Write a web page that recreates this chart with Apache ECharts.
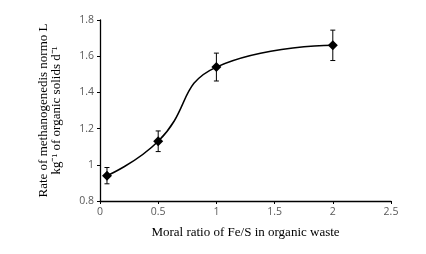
<!DOCTYPE html>
<html><head><meta charset="utf-8">
<script src="https://cdn.jsdelivr.net/npm/echarts@6/dist/echarts.min.js"></script>
<style>html,body{margin:0;padding:0;background:#fff}#c{width:426px;height:254px}</style>
</head><body><div id="c"></div>
<script>
const xValues = [0.06, 0.5, 1, 2];
const yValues = [0.94, 1.13, 1.54, 1.66];
const errValues = [0.045, 0.057, 0.077, 0.084];
const xTicks = [0, 0.5, 1, 1.5, 2, 2.5];
const yTicks = [0.8, 1, 1.2, 1.4, 1.6, 1.8];

const chart = echarts.init(document.getElementById('c'));
const lineData = xValues.map((x, i) => [x, yValues[i]]);
const errData = xValues.map((x, i) => [x, yValues[i] - errValues[i], yValues[i] + errValues[i]]);
const tickLabel = {color: '#595959', fontFamily: 'Open Sans, sans-serif', fontSize: 10.5};
chart.setOption({
  animation: false,
  grid: {left: 100, right: 35, top: 20, bottom: 53},
  xAxis: {
    type: 'value', min: 0, max: 2.5, interval: 0.5,
    axisLine: {lineStyle: {color: '#000', width: 1.3}},
    axisTick: {show: true, length: 3, lineStyle: {color: '#000'}},
    splitLine: {show: false},
    axisLabel: Object.assign({margin: 6, formatter: v => String(v)}, tickLabel),
    name: 'Moral ratio of Fe/S in organic waste', nameLocation: 'middle', nameGap: 25,
    nameTextStyle: {fontFamily: 'Liberation Serif, serif', fontSize: 13, color: '#000'}
  },
  yAxis: {
    type: 'value', min: 0.8, max: 1.8, interval: 0.2,
    axisLine: {show: true, lineStyle: {color: '#000', width: 1.3}},
    axisTick: {show: true, length: 3, lineStyle: {color: '#000'}},
    splitLine: {show: false},
    axisLabel: Object.assign({margin: 6, formatter: v => String(Math.round(v * 10) / 10)}, tickLabel),
    name: 'Rate of methanogenedis normo L\nkg\u207B\u00B9 of organic solids d\u207B\u00B9',
    nameLocation: 'middle', nameGap: 37,
    nameTextStyle: {fontFamily: 'Liberation Serif, serif', fontSize: 13, color: '#000', lineHeight: 13}
  },
  series: [
    {
      type: 'line', data: lineData, smooth: 0.5,
      symbol: 'diamond', symbolSize: 10,
      lineStyle: {color: '#000', width: 1.5},
      itemStyle: {color: '#000'}
    },
    {
      type: 'custom', data: errData,
      renderItem: function (params, api) {
        const x = api.value(0);
        const lo = api.coord([x, api.value(1)]);
        const hi = api.coord([x, api.value(2)]);
        const w = 2.5;
        const st = {stroke: '#000', lineWidth: 1};
        return {type: 'group', children: [
          {type: 'line', shape: {x1: lo[0], y1: lo[1], x2: hi[0], y2: hi[1]}, style: st},
          {type: 'line', shape: {x1: lo[0] - w, y1: lo[1], x2: lo[0] + w, y2: lo[1]}, style: st},
          {type: 'line', shape: {x1: hi[0] - w, y1: hi[1], x2: hi[0] + w, y2: hi[1]}, style: st}
        ]};
      },
      z: 1
    }
  ]
});
</script></body></html>
